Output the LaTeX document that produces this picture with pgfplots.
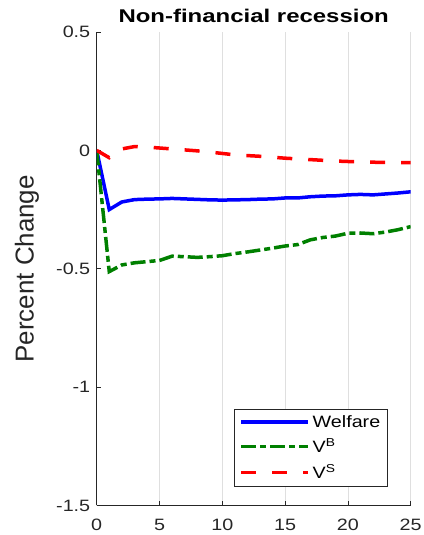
\documentclass[border=0pt]{standalone}
\usepackage{fontspec}
\setmainfont{Liberation Sans}
\newfontfamily\tickfont{Liberation Sans}[FakeStretch=1.2]
\newfontfamily\titlefont{Liberation Sans}[FakeStretch=1.3]
\usepackage{pgfplots}
\pgfplotsset{compat=1.18}
\definecolor{axgray}{RGB}{38,38,38}
\definecolor{gridgray}{RGB}{223,223,223}
\definecolor{mgreen}{RGB}{0,128,0}
\begin{document}
\begin{tikzpicture}
\begin{axis}[
  at={(0,0)}, anchor=south west,
  scale only axis,
  width=314bp, height=473.5bp,
  xmin=0, xmax=25, ymin=-1.5, ymax=0.5,
  xtick={0,5,10,15,20,25},
  ytick={-1.5,-1,-0.5,0,0.5},
  yticklabels={-1.5,-1,-0.5,0,0.5},
  axis x line*=bottom, axis y line*=left,
  axis line style={axgray, line width=0.6bp},
  tick style={axgray, line width=0.6bp},
  tick align=inside,
  major tick length=4bp,
  xmajorgrids, grid style={gridgray, line width=0.6bp},
  /pgf/number format/assume math mode=true,
  ticklabel style={font=\tickfont\fontsize{16.5}{18}\selectfont, text=axgray},
  xticklabel style={yshift=-10bp},
  yticklabel style={xshift=-3bp},
  title={\titlefont\bfseries\fontsize{18.5}{21}\selectfont Non-financial recession},
  title style={at={(axis description cs:0.5,1)}, anchor=south, yshift=3bp, inner sep=0pt},
  ylabel={Percent Change},
  ylabel style={at={(axis description cs:0,0.5)}, anchor=south, yshift=57.5bp, inner sep=0pt, font=\fontsize{26}{28}\selectfont, text=axgray},
  legend cell align=left,
  legend style={at={(0.928,0.039)}, anchor=south east, draw=axgray, line width=0.6bp, fill=white,
    font=\tickfont\fontsize{16.5}{18}\selectfont, inner xsep=5bp, inner ysep=4bp, row sep=5bp,
    nodes={inner sep=2.5bp}},
  legend image code/.code={\draw[#1] (0bp,0bp) -- (67bp,0bp);},
]
\addplot[blue, line width=3.5bp] coordinates {
(0,0) (1,-0.250) (2,-0.218) (3,-0.208) (4,-0.206) (5,-0.205) (6,-0.203) (7,-0.205)
(8,-0.207) (9,-0.209) (10,-0.210) (11,-0.209) (12,-0.208) (13,-0.206) (14,-0.205)
(15,-0.201) (16,-0.201) (17,-0.196) (18,-0.193) (19,-0.192) (20,-0.188) (21,-0.186)
(22,-0.188) (23,-0.184) (24,-0.180) (25,-0.175)};
\addlegendentry{Welfare}
\addplot[mgreen, line width=3.5bp, dash pattern=on 15bp off 4bp on 6bp off 4bp] coordinates {
(0,0) (1,-0.512) (2,-0.484) (3,-0.475) (4,-0.470) (5,-0.465) (6,-0.447) (7,-0.449)
(8,-0.452) (9,-0.449) (10,-0.445) (11,-0.436) (12,-0.429) (13,-0.421) (14,-0.413)
(15,-0.404) (16,-0.398) (17,-0.378) (18,-0.368) (19,-0.362) (20,-0.350) (21,-0.349)
(22,-0.352) (23,-0.345) (24,-0.335) (25,-0.322)};
\addlegendentry{V\textsuperscript{B}}
\addplot[red, line width=3.5bp, dash pattern=on 15bp off 16bp] coordinates {
(0,0) (1,-0.031) (2,0.006) (3,0.016) (4,0.014) (5,0.010) (6,0.006) (7,0.002)
(8,-0.002) (9,-0.007) (10,-0.013) (11,-0.019) (12,-0.022) (13,-0.025) (14,-0.029)
(15,-0.033) (16,-0.036) (17,-0.039) (18,-0.042) (19,-0.045) (20,-0.047) (21,-0.049)
(22,-0.050) (23,-0.051) (24,-0.051) (25,-0.052)};
\addlegendentry{V\textsuperscript{S}}
\end{axis}
\pgfresetboundingbox
\path (-96.7bp,-29.5bp) rectangle (327.3bp,505.5bp);
\end{tikzpicture}
\end{document}
